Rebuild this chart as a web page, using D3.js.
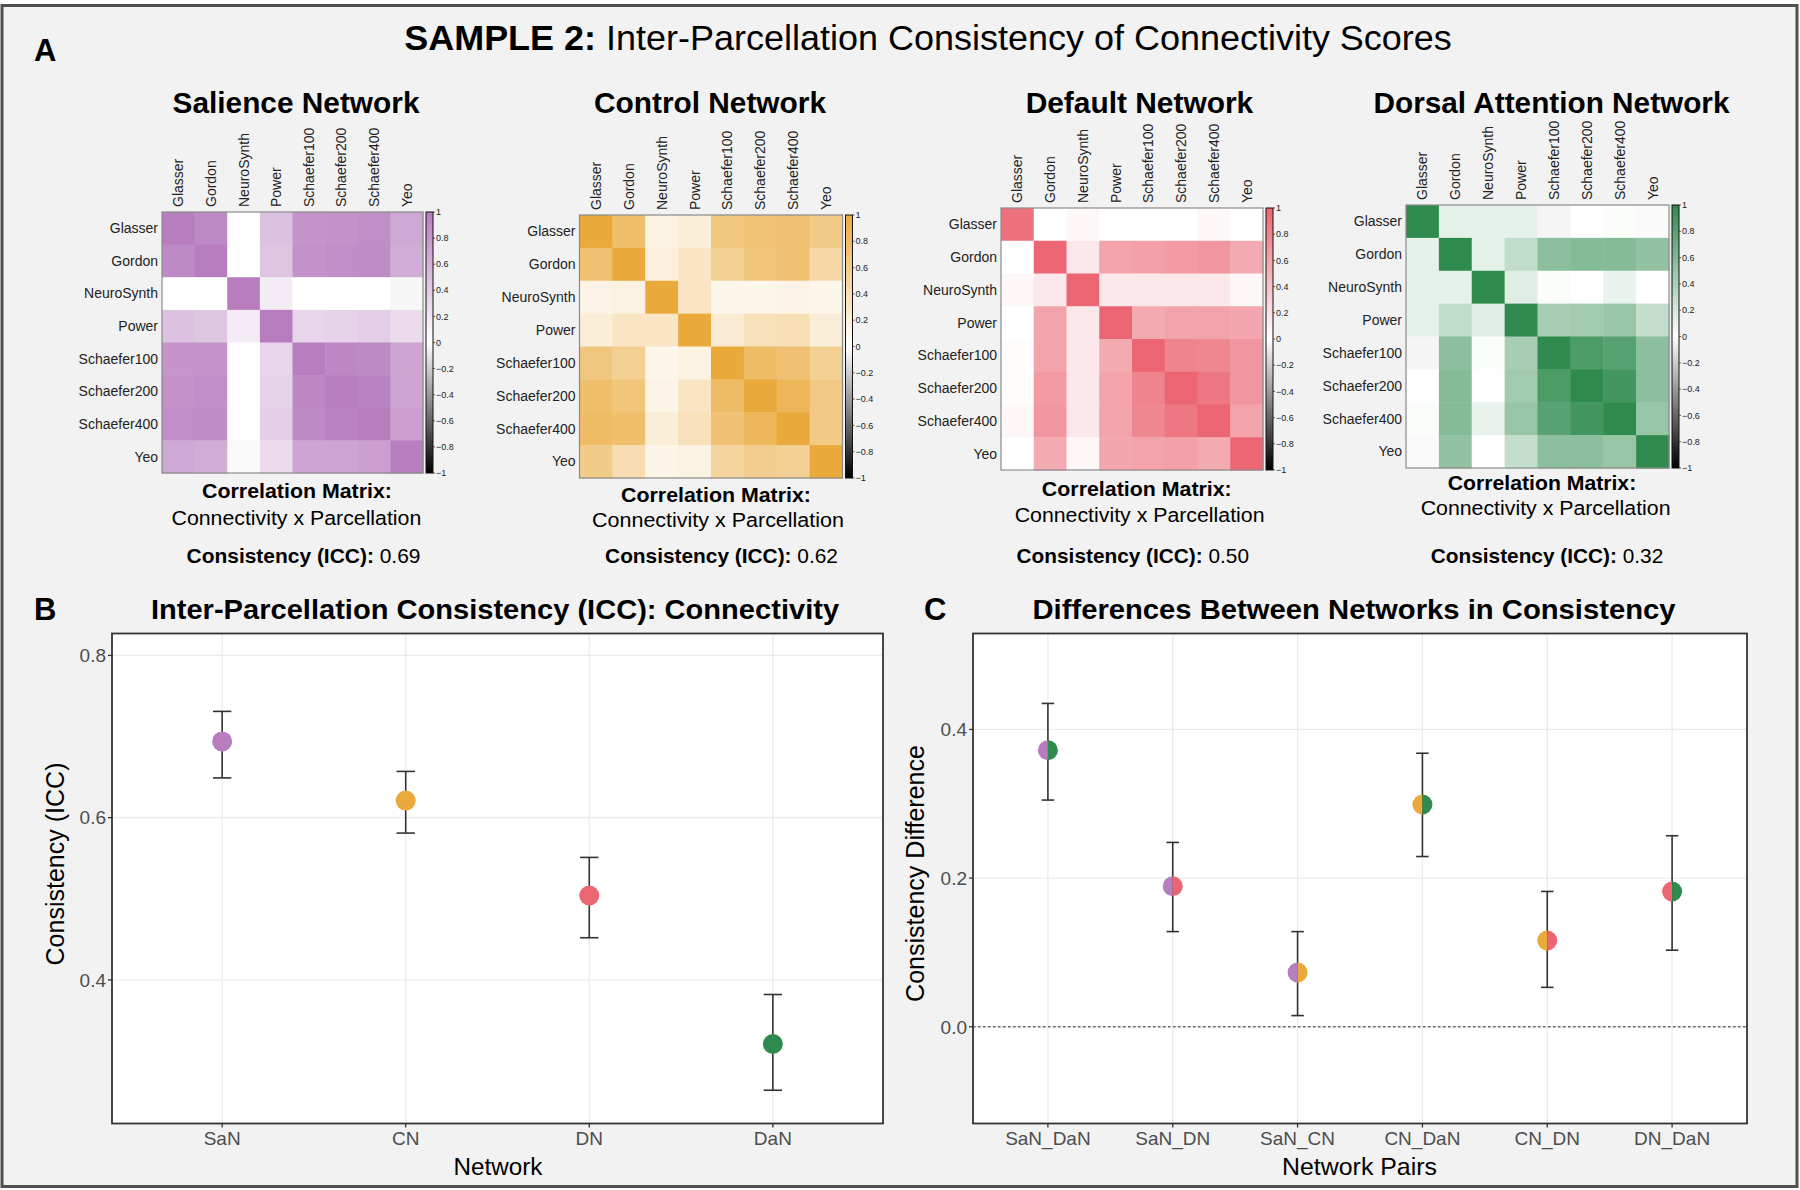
<!DOCTYPE html>
<html><head><meta charset="utf-8">
<script src="https://cdn.jsdelivr.net/npm/d3@7"></script>
<style>
body{margin:0;background:#fff}
svg{display:block}
text{font-family:"Liberation Sans",Arial,Helvetica,sans-serif;white-space:pre}
</style>
</head><body>
<svg id="c" width="1800" height="1190"></svg>
<script>
// ---------------- DATA ----------------
const parcellations = ["Glasser","Gordon","NeuroSynth","Power","Schaefer100","Schaefer200","Schaefer400","Yeo"];
const networkNames = ["Salience Network","Control Network","Default Network","Dorsal Attention Network"];
const networkCodes = ["SaN","CN","DN","DaN"];
const networkColors = ["#B77DBF","#EAA93B","#EB6572","#2E8A4D"];
const iccValues = [0.69,0.62,0.50,0.32];

const salienceMatrix = [
 [1.00,0.90,0.00,0.48,0.82,0.84,0.86,0.66],
 [0.90,1.00,0.00,0.45,0.84,0.86,0.88,0.64],
 [0.00,0.00,1.00,0.15,0.00,0.00,0.00,-0.03],
 [0.48,0.44,0.15,1.00,0.32,0.35,0.38,0.28],
 [0.82,0.83,0.00,0.32,1.00,0.92,0.90,0.70],
 [0.84,0.86,0.00,0.35,0.92,1.00,0.96,0.70],
 [0.86,0.87,0.00,0.38,0.90,0.96,1.00,0.74],
 [0.66,0.64,-0.02,0.28,0.70,0.70,0.74,1.00]
];
const controlMatrix = [
 [1.00,0.75,0.15,0.20,0.65,0.70,0.72,0.60],
 [0.72,1.00,0.18,0.30,0.55,0.68,0.72,0.45],
 [0.12,0.15,1.00,0.30,0.10,0.10,0.12,0.10],
 [0.20,0.30,0.30,1.00,0.22,0.35,0.38,0.20],
 [0.65,0.55,0.10,0.15,1.00,0.78,0.72,0.55],
 [0.75,0.68,0.12,0.30,0.78,1.00,0.85,0.62],
 [0.78,0.75,0.20,0.35,0.72,0.85,1.00,0.62],
 [0.60,0.40,0.12,0.15,0.50,0.58,0.55,1.00]
];
const defaultMatrix = [
 [0.92,0.00,0.05,0.00,0.00,0.00,0.05,0.00],
 [0.00,1.00,0.15,0.60,0.62,0.65,0.68,0.55],
 [0.05,0.15,1.00,0.15,0.15,0.15,0.15,0.05],
 [0.00,0.60,0.15,1.00,0.55,0.60,0.60,0.58],
 [0.02,0.60,0.15,0.55,1.00,0.80,0.78,0.68],
 [0.02,0.65,0.15,0.60,0.80,1.00,0.88,0.68],
 [0.05,0.68,0.15,0.60,0.78,0.88,1.00,0.60],
 [0.00,0.55,0.05,0.58,0.60,0.62,0.55,1.00]
];
const dorsalMatrix = [
 [1.00,0.12,0.12,0.12,-0.04,0.00,0.02,-0.02],
 [0.12,1.00,0.12,0.30,0.55,0.58,0.58,0.52],
 [0.12,0.12,1.00,0.15,0.02,0.00,0.10,0.00],
 [0.12,0.30,0.15,1.00,0.42,0.45,0.50,0.28],
 [-0.04,0.55,0.02,0.42,1.00,0.85,0.80,0.55],
 [0.00,0.58,0.00,0.45,0.85,1.00,0.90,0.55],
 [0.02,0.58,0.10,0.50,0.80,0.90,1.00,0.50],
 [-0.02,0.52,0.00,0.28,0.55,0.55,0.50,1.00]
];
const colorbarTicks = [1,0.8,0.6,0.4,0.2,0,-0.2,-0.4,-0.6,-0.8,-1];

const iccMean  = [0.694,0.621,0.504,0.321];
const iccLower = [0.649,0.581,0.452,0.264];
const iccUpper = [0.731,0.657,0.551,0.382];
const iccTicks = [0.4,0.6,0.8];

const pairNames = ["SaN_DaN","SaN_DN","SaN_CN","CN_DaN","CN_DN","DN_DaN"];
const diffMean  = [0.372,0.189,0.073,0.299,0.116,0.182];
const diffLower = [0.305,0.128,0.015,0.229,0.053,0.103];
const diffUpper = [0.435,0.248,0.128,0.368,0.182,0.257];
const diffTicks = [0.0,0.2,0.4];

// ---------------- DRAW ----------------
const svg = d3.select("#c");
const defs = svg.append("defs");
svg.append("rect").attr("width",1800).attr("height",1190).attr("fill","#fff");
svg.append("rect").attr("x",2).attr("y",5.5).attr("width",1795).attr("height",1181)
  .attr("fill","#f2f2f2").attr("stroke","#4f4f4f").attr("stroke-width",3);

function txt(parent, o){
  const g = parent.append("g").attr("transform",`translate(${o.x},${o.y}) rotate(${o.rotate||0})`);
  const t = g.append("text").attr("font-size",o.size).attr("fill",o.fill||"#000")
    .attr("text-anchor",o.anchor||"middle");
  if (o.dy) t.attr("dy",o.dy);
  (o.parts||[{t:o.text,b:o.bold}]).forEach(p=>{
    t.append("tspan").attr("font-weight",p.b?"bold":"normal").text(p.t);
  });
  if (o.width){
    const w = t.node().getBBox().width;
    if (w>0) t.attr("transform",`scale(${o.width/w},1)`);
  }
  return t;
}

// Main title & panel letters
txt(svg,{x:928,y:50,size:35,width:1048,parts:[{t:"SAMPLE 2:",b:1},{t:" Inter-Parcellation Consistency of Connectivity Scores"}]});
txt(svg,{x:34,y:61,size:31,anchor:"start",text:"A",bold:1});
txt(svg,{x:34,y:620,size:31,anchor:"start",text:"B",bold:1});
txt(svg,{x:924,y:620,size:31,anchor:"start",text:"C",bold:1});

// Heatmaps
const matrices = [salienceMatrix,controlMatrix,defaultMatrix,dorsalMatrix];
const hmLayout = [
 {x0:162,  y0:212, size:261, tx:296,   cm:[297,498,190],    cp:[296.4,524.5,250], icc:[303.5,563,234]},
 {x0:579.5,y0:215, size:263, tx:710,   cm:[716,501.5,190],  cp:[718,527,252],     icc:[721.5,563,233]},
 {x0:1001, y0:208, size:262, tx:1139.4,cm:[1136.8,496,190], cp:[1139.6,521.5,250],icc:[1132.8,563,232.5]},
 {x0:1406, y0:205, size:263, tx:1551.5,cm:[1542,490,188.5], cp:[1545.6,515,250],  icc:[1547,563,232.5]}
];
const titleWidths = [248,233,228.6,357];

matrices.forEach((m,k)=>{
  const L = hmLayout[k];
  const col = networkColors[k];
  const g = svg.append("g");
  const x = d3.scaleBand().domain(parcellations).range([L.x0, L.x0+L.size]);
  const y = d3.scaleBand().domain(parcellations).range([L.y0, L.y0+L.size]);
  const cs = d3.scaleLinear().domain([-1,0,1]).range(["#000000","#ffffff",col]);
  const cells = [];
  m.forEach((row,i)=>row.forEach((v,j)=>cells.push({r:parcellations[i],c:parcellations[j],v})));
  g.selectAll("rect.cell").data(cells).join("rect").attr("class","cell")
    .attr("x",d=>x(d.c)).attr("y",d=>y(d.r))
    .attr("width",x.bandwidth()+0.5).attr("height",y.bandwidth()+0.5)
    .attr("fill",d=>cs(d.v));
  g.append("rect").attr("x",L.x0).attr("y",L.y0).attr("width",L.size).attr("height",L.size)
    .attr("fill","none").attr("stroke","#8a8a8a").attr("stroke-width",1.2);
  // row labels
  g.selectAll("text.rl").data(parcellations).join("text").attr("class","rl")
    .attr("x",L.x0-4).attr("y",d=>y(d)+y.bandwidth()/2).attr("dy","0.35em")
    .attr("text-anchor","end").attr("font-size",14).attr("fill","#222").text(d=>d);
  // column labels
  g.selectAll("text.cl").data(parcellations).join("text").attr("class","cl")
    .attr("transform",d=>`translate(${x(d)+x.bandwidth()/2+5},${L.y0-5}) rotate(-90)`)
    .attr("text-anchor","start").attr("font-size",14).attr("fill","#222").text(d=>d);
  // colorbar
  const bx = L.x0+L.size+3, bw = 7;
  const cy = d3.scaleLinear().domain([-1,1]).range([L.y0+L.size, L.y0]);
  const gid = "grad"+k;
  const lg = defs.append("linearGradient").attr("id",gid).attr("x1",0).attr("y1",1).attr("x2",0).attr("y2",0);
  d3.range(-1,1.0001,0.1).forEach(v=>{
    lg.append("stop").attr("offset",(v+1)/2).attr("stop-color",cs(v));
  });
  g.append("rect").attr("x",bx).attr("y",cy(1)).attr("width",bw).attr("height",cy(-1)-cy(1))
    .attr("fill",`url(#${gid})`).attr("stroke","#111").attr("stroke-width",1);
  g.selectAll("line.ct").data(colorbarTicks).join("line").attr("class","ct")
    .attr("x1",bx+bw).attr("x2",bx+bw+2).attr("y1",d=>cy(d)).attr("y2",d=>cy(d))
    .attr("stroke","#333").attr("stroke-width",0.8);
  g.selectAll("text.ctl").data(colorbarTicks).join("text").attr("class","ctl")
    .attr("x",bx+bw+3).attr("y",d=>cy(d)).attr("dy","0.35em")
    .attr("font-size",9).attr("fill","#222").text(d=>d3.format("")(+d.toFixed(1)));
  // titles & captions
  txt(svg,{x:L.tx,y:112.5,size:29,width:titleWidths[k],text:networkNames[k],bold:1});
  txt(svg,{x:L.cm[0],y:L.cm[1],size:21,width:L.cm[2],text:"Correlation Matrix:",bold:1});
  txt(svg,{x:L.cp[0],y:L.cp[1],size:21,width:L.cp[2],text:"Connectivity x Parcellation"});
  txt(svg,{x:L.icc[0],y:L.icc[1],size:20,width:L.icc[2],
    parts:[{t:"Consistency (ICC):",b:1},{t:" "+iccValues[k].toFixed(2)}]});
});

// Dot / errorbar panels
function panel(o){
  const g = svg.append("g");
  const x = d3.scalePoint().domain(o.cats).range([o.x0,o.x1]).padding(0.6);
  const y = d3.scaleLinear().domain(o.domain).range([o.y1,o.y0]);
  g.append("rect").attr("x",o.x0).attr("y",o.y0).attr("width",o.x1-o.x0).attr("height",o.y1-o.y0)
    .attr("fill","#fff");
  g.selectAll("line.gy").data(o.ticks).join("line").attr("class","gy")
    .attr("x1",o.x0).attr("x2",o.x1).attr("y1",d=>y(d)).attr("y2",d=>y(d))
    .attr("stroke","#ebebeb").attr("stroke-width",1.3);
  g.selectAll("line.gx").data(o.cats).join("line").attr("class","gx")
    .attr("x1",d=>x(d)).attr("x2",d=>x(d)).attr("y1",o.y0).attr("y2",o.y1)
    .attr("stroke","#ebebeb").attr("stroke-width",1.3);
  if (o.zero){
    g.append("line").attr("x1",o.x0).attr("x2",o.x1).attr("y1",y(0)).attr("y2",y(0))
      .attr("stroke","#666").attr("stroke-width",1.3).attr("stroke-dasharray","2.5,2.5");
  }
  const cap = x.step()*0.05;
  const d = o.cats.map((c,i)=>({c,m:o.mean[i],lo:o.lower[i],hi:o.upper[i],cols:o.colors[i]}));
  g.selectAll("line.eb").data(d).join("line").attr("class","eb")
    .attr("x1",e=>x(e.c)).attr("x2",e=>x(e.c)).attr("y1",e=>y(e.lo)).attr("y2",e=>y(e.hi))
    .attr("stroke","#333").attr("stroke-width",1.6);
  ["lo","hi"].forEach(k=>{
    g.selectAll("line.cap"+k).data(d).join("line").attr("class","cap"+k)
      .attr("x1",e=>x(e.c)-cap).attr("x2",e=>x(e.c)+cap).attr("y1",e=>y(e[k])).attr("y2",e=>y(e[k]))
      .attr("stroke","#333").attr("stroke-width",1.6);
  });
  const r = 10;
  if (o.split){
    const left = d3.arc().innerRadius(0).outerRadius(r).startAngle(Math.PI).endAngle(2*Math.PI);
    const right = d3.arc().innerRadius(0).outerRadius(r).startAngle(0).endAngle(Math.PI);
    d.forEach(e=>{
      g.append("path").attr("d",left()).attr("transform",`translate(${x(e.c)},${y(e.m)})`).attr("fill",e.cols[0]);
      g.append("path").attr("d",right()).attr("transform",`translate(${x(e.c)},${y(e.m)})`).attr("fill",e.cols[1]);
    });
  } else {
    g.selectAll("circle.pt").data(d).join("circle").attr("class","pt")
      .attr("cx",e=>x(e.c)).attr("cy",e=>y(e.m)).attr("r",r).attr("fill",e=>e.cols[0]);
  }
  g.append("rect").attr("x",o.x0).attr("y",o.y0).attr("width",o.x1-o.x0).attr("height",o.y1-o.y0)
    .attr("fill","none").attr("stroke","#333").attr("stroke-width",1.8);
  // axes ticks
  g.selectAll("line.ty").data(o.ticks).join("line").attr("class","ty")
    .attr("x1",o.x0-4).attr("x2",o.x0).attr("y1",v=>y(v)).attr("y2",v=>y(v))
    .attr("stroke","#333").attr("stroke-width",1.3);
  g.selectAll("text.tyl").data(o.ticks).join("text").attr("class","tyl")
    .attr("x",o.x0-6).attr("y",v=>y(v)).attr("dy","0.36em").attr("text-anchor","end")
    .attr("font-size",19).attr("fill","#4d4d4d").text(v=>d3.format(".1f")(v));
  g.selectAll("line.tx").data(o.cats).join("line").attr("class","tx")
    .attr("x1",c=>x(c)).attr("x2",c=>x(c)).attr("y1",o.y1).attr("y2",o.y1+4)
    .attr("stroke","#333").attr("stroke-width",1.3);
  g.selectAll("text.txl").data(o.cats).join("text").attr("class","txl")
    .attr("x",c=>x(c)).attr("y",o.y1+21).attr("text-anchor","middle")
    .attr("font-size",19).attr("fill","#4d4d4d").text(c=>c);
  txt(svg,{x:(o.x0+o.x1)/2+o.xtOff,y:1175,size:24,width:o.xtW,text:o.xTitle});
  txt(svg,{x:o.ytX,y:o.ytY,size:25,width:o.ytW,rotate:-90,text:o.yTitle});
  txt(svg,{x:o.tX,y:619,size:28,width:o.tW,text:o.title,bold:1});
}

const colorOf = Object.fromEntries(networkCodes.map((c,i)=>[c,networkColors[i]]));

panel({cats:networkCodes, x0:112, x1:883, y0:633.5, y1:1123.5, domain:[0.223,0.827],
  ticks:iccTicks, mean:iccMean, lower:iccLower, upper:iccUpper,
  colors:networkCodes.map(c=>[colorOf[c]]), split:false, zero:false,
  xTitle:"Network", xtOff:0.5, xtW:90, yTitle:"Consistency (ICC)", ytX:64, ytY:864, ytW:203,
  title:"Inter-Parcellation Consistency (ICC): Connectivity", tX:495, tW:689});

panel({cats:pairNames, x0:973, x1:1747, y0:633.5, y1:1123.5, domain:[-0.1302,0.5291],
  ticks:diffTicks, mean:diffMean, lower:diffLower, upper:diffUpper,
  colors:pairNames.map(p=>p.split("_").map(c=>colorOf[c])), split:true, zero:true,
  xTitle:"Network Pairs", xtOff:-0.5, xtW:155, yTitle:"Consistency Difference", ytX:924, ytY:873.5, ytW:257,
  title:"Differences Between Networks in Consistency", tX:1354, tW:644});
</script>
</body></html>
